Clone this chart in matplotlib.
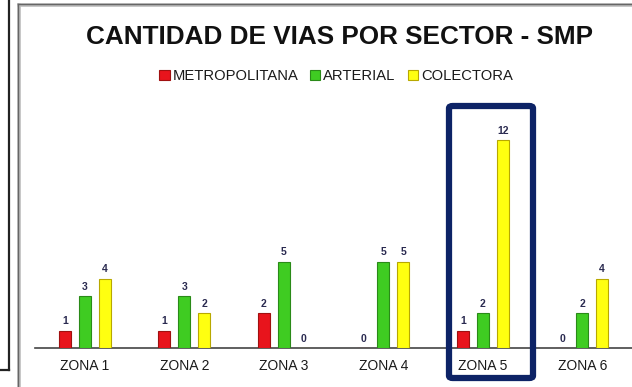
import matplotlib
matplotlib.use("Agg")
import matplotlib.pyplot as plt
from matplotlib.patches import FancyBboxPatch, Rectangle
from matplotlib.lines import Line2D
import numpy as np

plt.rcParams['font.family'] = ['Liberation Sans', 'DejaVu Sans']

zonas = ["ZONA 1", "ZONA 2", "ZONA 3", "ZONA 4", "ZONA 5", "ZONA 6"]
metropolitana = [1, 1, 2, 0, 1, 0]
arterial = [3, 3, 5, 5, 2, 2]
colectora = [4, 2, 0, 5, 12, 4]
series_names = ["METROPOLITANA", "ARTERIAL", "COLECTORA"]

fill_colors = ["#e8141c", "#3fcc22", "#ffff10"]
edge_colors = ["#a01010", "#2a8a18", "#b8a800"]

W, H = 632, 387
fig = plt.figure(figsize=(W / 100, H / 100), dpi=100)
fig.patch.set_facecolor("white")

def fx(px):
    return px / W

def fy(py):
    return 1 - py / H

# side frame and outer chart border
fig.add_artist(Line2D([fx(9), fx(9)], [fy(0), fy(370)], color="#222222", lw=1.6))
fig.add_artist(Line2D([fx(0), fx(9)], [fy(370), fy(370)], color="#222222", lw=1.6))
fig.add_artist(Line2D([fx(18.5), fx(18.5)], [fy(5), fy(390)], color="#bbbbbb", lw=2.6))
fig.add_artist(Line2D([fx(18.5), fx(640)], [fy(4.5), fy(4.5)], color="#bbbbbb", lw=2.6))
fig.add_artist(Line2D([fx(17.5), fx(17.5)], [fy(4), fy(390)], color="#666666", lw=1.0))
fig.add_artist(Line2D([fx(17.5), fx(640)], [fy(3.5), fy(3.5)], color="#666666", lw=1.0))

# plotting area
base_px = 348
unit_px = 17.3
ymax = 14
ax = fig.add_axes([fx(35), fy(base_px), 1 - fx(35), ymax * unit_px / H])
ax.set_xlim(-0.5, 5.5)
ax.set_ylim(0, ymax)
for s in ["top", "right", "left"]:
    ax.spines[s].set_visible(False)
ax.spines["bottom"].set_color("#444444")
ax.spines["bottom"].set_linewidth(1.2)
ax.set_yticks([])
x = np.arange(len(zonas))
ax.set_xticks(x)
ax.set_xticklabels(zonas, fontsize=10, color="#1a1a1a")
ax.tick_params(axis="x", length=0, pad=8)

offset = 0.2
width = 0.12
for i, vals in enumerate([metropolitana, arterial, colectora]):
    pos = x + (i - 1) * offset
    ax.bar(pos, vals, width=width, color=fill_colors[i], edgecolor=edge_colors[i],
           linewidth=0.8, zorder=3)
    for xp, v in zip(pos, vals):
        ax.text(xp, v + 0.25, str(v), ha="center", va="bottom", fontsize=7.5,
                fontweight="bold", color="#2a2a50")

# highlight around ZONA 5
fig.add_artist(FancyBboxPatch((fx(449), fy(378)), fx(533) - fx(449), fy(106) - fy(378),
                              boxstyle="round,pad=0,rounding_size=0.006",
                              fill=False, edgecolor="#0d2366", lw=4.5,
                              transform=fig.transFigure))

# title
fig.text(fx(340), fy(37), "CANTIDAD DE VIAS POR SECTOR - SMP", ha="center",
         va="center", fontsize=18.8, fontweight="bold", color="#111111")

# legend
legend_handles = [Rectangle((0, 0), 1, 1, facecolor=fill_colors[i],
                            edgecolor=edge_colors[i], lw=0.8) for i in range(3)]
leg = fig.legend(legend_handles, series_names, loc="center",
                 bbox_to_anchor=(fx(336), fy(76)), ncol=3, frameon=False,
                 fontsize=10.6, handlelength=0.7, handleheight=0.7, handletextpad=0.2,
                 columnspacing=0.8)
for t in leg.get_texts():
    t.set_color("#1a1a1a")

fig.savefig("out.png", dpi=100)
